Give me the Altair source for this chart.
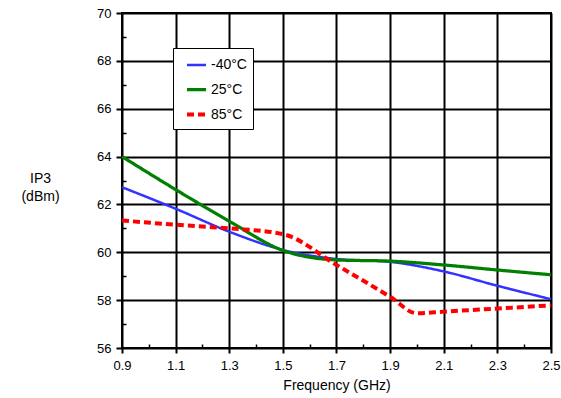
import altair as alt
import pandas as pd

freq = [0.9, 1.1, 1.3, 1.5, 1.7, 1.9, 2.1, 2.3, 2.5]
m40 = [62.72, 61.82, 60.86, 60.10, 59.72, 59.60, 59.20, 58.60, 58.04]
p25 = [64.00, 62.62, 61.30, 60.08, 59.68, 59.63, 59.47, 59.26, 59.06]
freq85 = [0.9, 1.1, 1.3, 1.5, 1.7, 1.9, 2.0, 2.1, 2.3, 2.5]
p85 = [61.33, 61.15, 61.00, 60.76, 59.47, 58.14, 57.45, 57.52, 57.65, 57.78]

series = ["-40°C", "25°C", "85°C"]
colors = ["#3333FF", "#008000", "#FF0000"]
widths = [2.5, 4.0, 4.0]
dashes = [[1, 0], [1, 0], [7, 4]]

x_major = [0.9, 1.1, 1.3, 1.5, 1.7, 1.9, 2.1, 2.3, 2.5]
x_minor = [1.0, 1.2, 1.4, 1.6, 1.8, 2.0, 2.2, 2.4]
y_major = [56, 58, 60, 62, 64, 66, 68, 70]
y_minor = [57, 59, 61, 63, 65, 67, 69]

rows = []
for f, v in zip(freq, m40):
    rows.append({"f": f, "v": v, "s": series[0]})
for f, v in zip(freq, p25):
    rows.append({"f": f, "v": v, "s": series[1]})
for f, v in zip(freq85, p85):
    rows.append({"f": f, "v": v, "s": series[2]})
df = pd.DataFrame(rows)

FONT = "Liberation Sans"
xs = alt.Scale(domain=[0.9, 2.5], nice=False, zero=False)
ys = alt.Scale(domain=[56, 70], nice=False, zero=False)

lines = alt.Chart(df).mark_line(interpolate="monotone").encode(
    x=alt.X("f:Q", scale=xs, axis=alt.Axis(
        orient="bottom",
        values=x_major, format=".1f", title="Frequency (GHz)",
        grid=True, gridColor="black", gridWidth=2, gridOpacity=1,
        tickColor="black", tickWidth=2, tickSize=5, labelFlush=False,
        domain=False, labelFont=FONT, labelFontSize=13, labelColor="black",
        labelPadding=6, titleFont=FONT, titleFontSize=14, titleFontWeight="normal",
        titleColor="black", titlePadding=6)),
    y=alt.Y("v:Q", scale=ys, axis=alt.Axis(
        orient="left",
        values=y_major, format="d", title=["IP3", "(dBm)"],
        grid=True, gridColor="black", gridWidth=2, gridOpacity=1,
        tickColor="black", tickWidth=2, tickSize=6,
        domain=False, labelFont=FONT, labelFontSize=13, labelColor="black",
        labelPadding=5, titleFont=FONT, titleFontSize=14, titleFontWeight="normal",
        titleColor="black", titleAngle=0, titleAlign="center", titleBaseline="middle",
        titleX=-82, titleY=165, titleLineHeight=18)),
    color=alt.Color("s:N", scale=alt.Scale(domain=series, range=colors),
                    legend=alt.Legend(title=None, orient="none", legendX=51, legendY=35,
                                      fillColor="white", strokeColor="black",
                                      padding=6, rowPadding=6, symbolType="stroke",
                                      symbolSize=361, symbolOffset=6,
                                      labelFont=FONT, labelFontSize=14,
                                      labelColor="black", labelOffset=3)),
    strokeWidth=alt.StrokeWidth("s:N", scale=alt.Scale(domain=series, range=widths),
                                legend=None),
    strokeDash=alt.StrokeDash("s:N", scale=alt.Scale(domain=series, range=dashes),
                              legend=None),
)

minor = alt.Chart(df).mark_point(opacity=0).encode(
    x=alt.X("f:Q", scale=xs, axis=alt.Axis(
        orient="bottom",
        values=x_minor, labels=False, title=None, grid=False, domain=False,
        tickColor="black", tickWidth=1.5, tickSize=4, offset=-4)),
    y=alt.Y("v:Q", scale=ys, axis=alt.Axis(
        orient="left",
        values=y_minor, labels=False, title=None, grid=False, domain=False,
        tickColor="black", tickWidth=1.5, tickSize=4, offset=-4)),
)

chart = alt.layer(minor, lines).resolve_axis(x="independent", y="independent").properties(
    width=429, height=335,
    autosize=alt.AutoSizeParams(type="none"),
    padding={"left": 122, "top": 13, "right": 10, "bottom": 50},
    background="white",
).configure_view(stroke="black", strokeWidth=2)

chart.save("out.html", embed_options={"renderer": "svg", "actions": False})
